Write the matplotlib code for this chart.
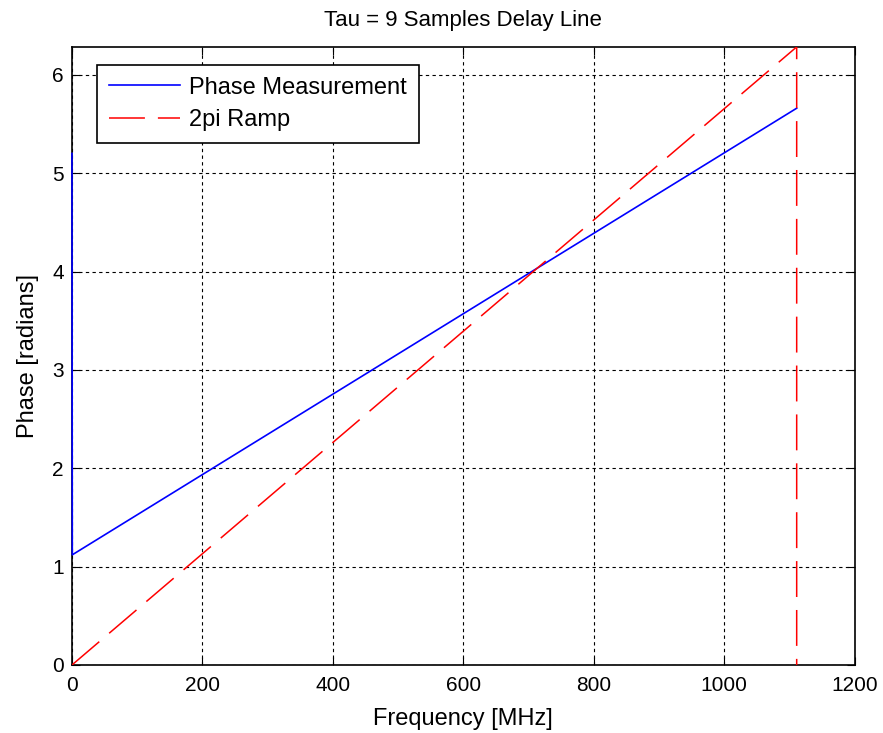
import numpy as np
import matplotlib.pyplot as plt

plt.rcParams['font.family'] = ['Liberation Sans', 'DejaVu Sans']

# Phase measurement: starts at ~5.2 at DC, then linear from ~1.12 up to ~5.66
meas_freq = [0, 0.5, 1111]
meas_phase = [5.2, 1.12, 5.66]

# 2pi ramp: 0 -> 2pi over 0..1111 MHz then drop to 0
ramp_freq = [0, 1111, 1111]
ramp_phase = [0, 2 * np.pi, 0]

fig = plt.figure(figsize=(8.83, 7.33), dpi=100)
ax = fig.add_axes([0.0815, 0.0928, 0.8865, 0.8432])

ax.plot(meas_freq, meas_phase, color='blue', lw=1.2, label='Phase Measurement',
        zorder=3, clip_on=False)
ax.plot(ramp_freq, ramp_phase, color='red', lw=1.1, dashes=(23.5, 8.5),
        label='2pi Ramp', zorder=3)

ax.set_xlim(0, 1200)
ax.set_ylim(0, 2 * np.pi)
ax.set_xticks(range(0, 1201, 200))
ax.set_yticks(range(0, 7))
ax.grid(True, color='black', linestyle=(0, (3, 3)), linewidth=0.8)
ax.tick_params(direction='in', top=True, right=True, labelsize=15, length=6)
ax.tick_params(axis='x', pad=8)
ax.tick_params(axis='y', pad=6)
for s in ax.spines.values():
    s.set_linewidth(1.2)

ax.set_title('Tau = 9 Samples Delay Line', fontsize=16, pad=15)
ax.set_xlabel('Frequency [MHz]', fontsize=17, labelpad=9)
ax.set_ylabel('Phase [radians]', fontsize=17, labelpad=9)

leg = ax.legend(loc='upper left', fontsize=17, fancybox=False, framealpha=1,
                edgecolor='black', handlelength=3.0, handletextpad=0.4,
                borderpad=0.5, borderaxespad=0, labelspacing=0.45,
                bbox_to_anchor=(0.032, 0.971))
leg.get_frame().set_linewidth(1.2)

fig.savefig('out.png', dpi=100)
